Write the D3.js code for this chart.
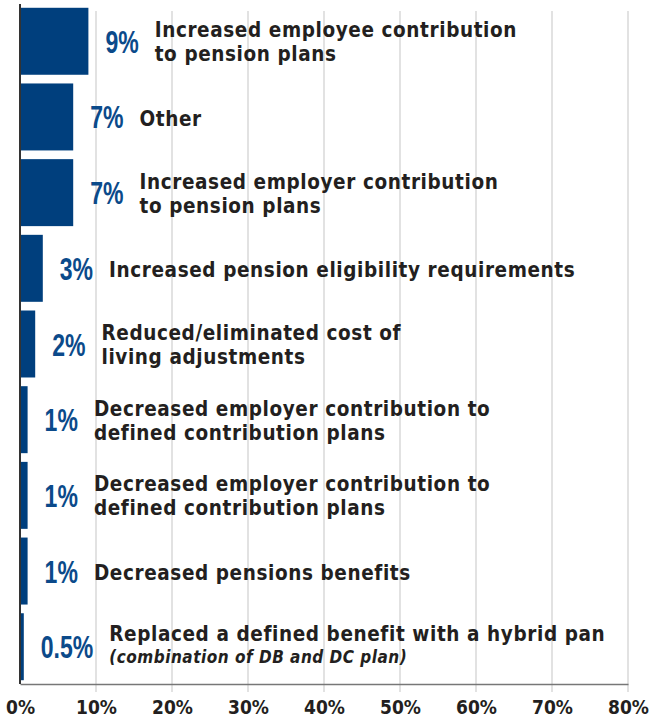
<!DOCTYPE html>
<html>
<head>
<meta charset="utf-8">
<script src="https://cdn.jsdelivr.net/npm/d3@7"></script>
<style>
  body { margin: 0; background: #fff; }
  svg { display: block; }
  .cat { font-family: "DejaVu Sans Condensed", "DejaVu Sans", sans-serif; font-stretch: condensed; font-weight: bold; fill: #231f20; letter-spacing: 0.6px; }
  .val { font-family: "Liberation Sans", sans-serif; font-weight: bold; fill: #0b4a8a; }
  .x-axis text { font-family: "DejaVu Sans Condensed", "DejaVu Sans", sans-serif; font-stretch: condensed; font-weight: bold; fill: #231f20; }
</style>
</head>
<body>
<div id="chart"></div>
<script>
// data, top to bottom
const categories = [
  ['Increased employee contribution', 'to pension plans'],
  ['Other'],
  ['Increased employer contribution', 'to pension plans'],
  ['Increased pension eligibility requirements'],
  ['Reduced/eliminated cost of', 'living adjustments'],
  ['Decreased employer contribution to', 'defined contribution plans'],
  ['Decreased employer contribution to', 'defined contribution plans'],
  ['Decreased pensions benefits'],
  ['Replaced a defined benefit with a hybrid pan']
];
const notes = ['', '', '', '', '', '', '', '', '(combination of DB and DC plan)'];
const values = [9, 7, 7, 3, 2, 1, 1, 1, 0.5];
const ticks = [0, 10, 20, 30, 40, 50, 60, 70, 80];

const width = 660, height = 719;
const margin = {left: 20, right: 628, top: 4, bottom: 684};

const svg = d3.select('#chart').append('svg')
  .attr('width', width)
  .attr('height', height);

const x = d3.scaleLinear().domain([0, 80]).range([margin.left, margin.right]);
const y = d3.scaleBand()
  .domain(d3.range(values.length))
  .range([margin.top, margin.bottom])
  .paddingInner(0.115)
  .paddingOuter(0.05);

// gridlines
svg.append('g')
  .selectAll('line')
  .data(ticks.slice(1))
  .join('line')
    .attr('x1', d => x(d)).attr('x2', d => x(d))
    .attr('y1', 11).attr('y2', margin.bottom + 8)
    .attr('stroke', '#d9d9d9')
    .attr('stroke-width', 1.5);

// bottom axis
const xAxis = svg.append('g')
  .attr('class', 'x-axis')
  .attr('transform', `translate(0,${margin.bottom})`)
  .call(d3.axisBottom(x).tickValues(ticks).tickFormat(d => d + '%').tickSize(0).tickSizeOuter(0));
xAxis.select('.domain').attr('stroke', '#777').attr('stroke-width', 1.5);
xAxis.selectAll('.tick text').attr('font-size', 19).attr('dy', 0).attr('y', 29.5);

// bars
svg.append('g')
  .selectAll('rect')
  .data(values)
  .join('rect')
    .attr('x', x(0) + 1)
    .attr('y', (d, i) => y(i))
    .attr('width', d => x(d) - x(0) - 1)
    .attr('height', y.bandwidth())
    .attr('fill', '#003f7d');

// left axis line
svg.append('line')
  .attr('x1', margin.left).attr('x2', margin.left)
  .attr('y1', margin.top).attr('y2', margin.bottom)
  .attr('stroke', '#333')
  .attr('stroke-width', 2);

// labels
const rows = svg.append('g')
  .selectAll('g')
  .data(values)
  .join('g')
    .attr('transform', (d, i) => `translate(0,${y(i) + y.bandwidth() / 2})`);

const valScale = 0.72;

rows.each(function(d, i) {
  const g = d3.select(this);
  const vx = x(d) + 17;
  const val = g.append('text')
    .attr('class', 'val')
    .attr('transform', `translate(${vx},11.5) scale(${valScale},1)`)
    .attr('font-size', 32)
    .text(d + '%');
  const vw = val.node().getComputedTextLength() * valScale;
  const cx = vx + vw + 16;

  const lines = categories[i];
  const hasNote = notes[i] !== '';
  const n = lines.length + (hasNote ? 1 : 0);
  const startY = n === 1 ? 9 : (hasNote ? -5.5 : -4);

  const t = g.append('text')
    .attr('class', 'cat')
    .attr('font-size', 20.5);
  lines.forEach((line, j) => {
    t.append('tspan')
      .attr('x', cx)
      .attr('y', startY + j * 24)
      .text(line);
  });
  if (hasNote) {
    t.append('tspan')
      .attr('x', cx)
      .attr('y', startY + lines.length * 22)
      .attr('font-size', 17)
      .attr('letter-spacing', '0.5px')
      .attr('font-style', 'italic')
      .text(notes[i]);
  }
});
</script>
</body>
</html>
